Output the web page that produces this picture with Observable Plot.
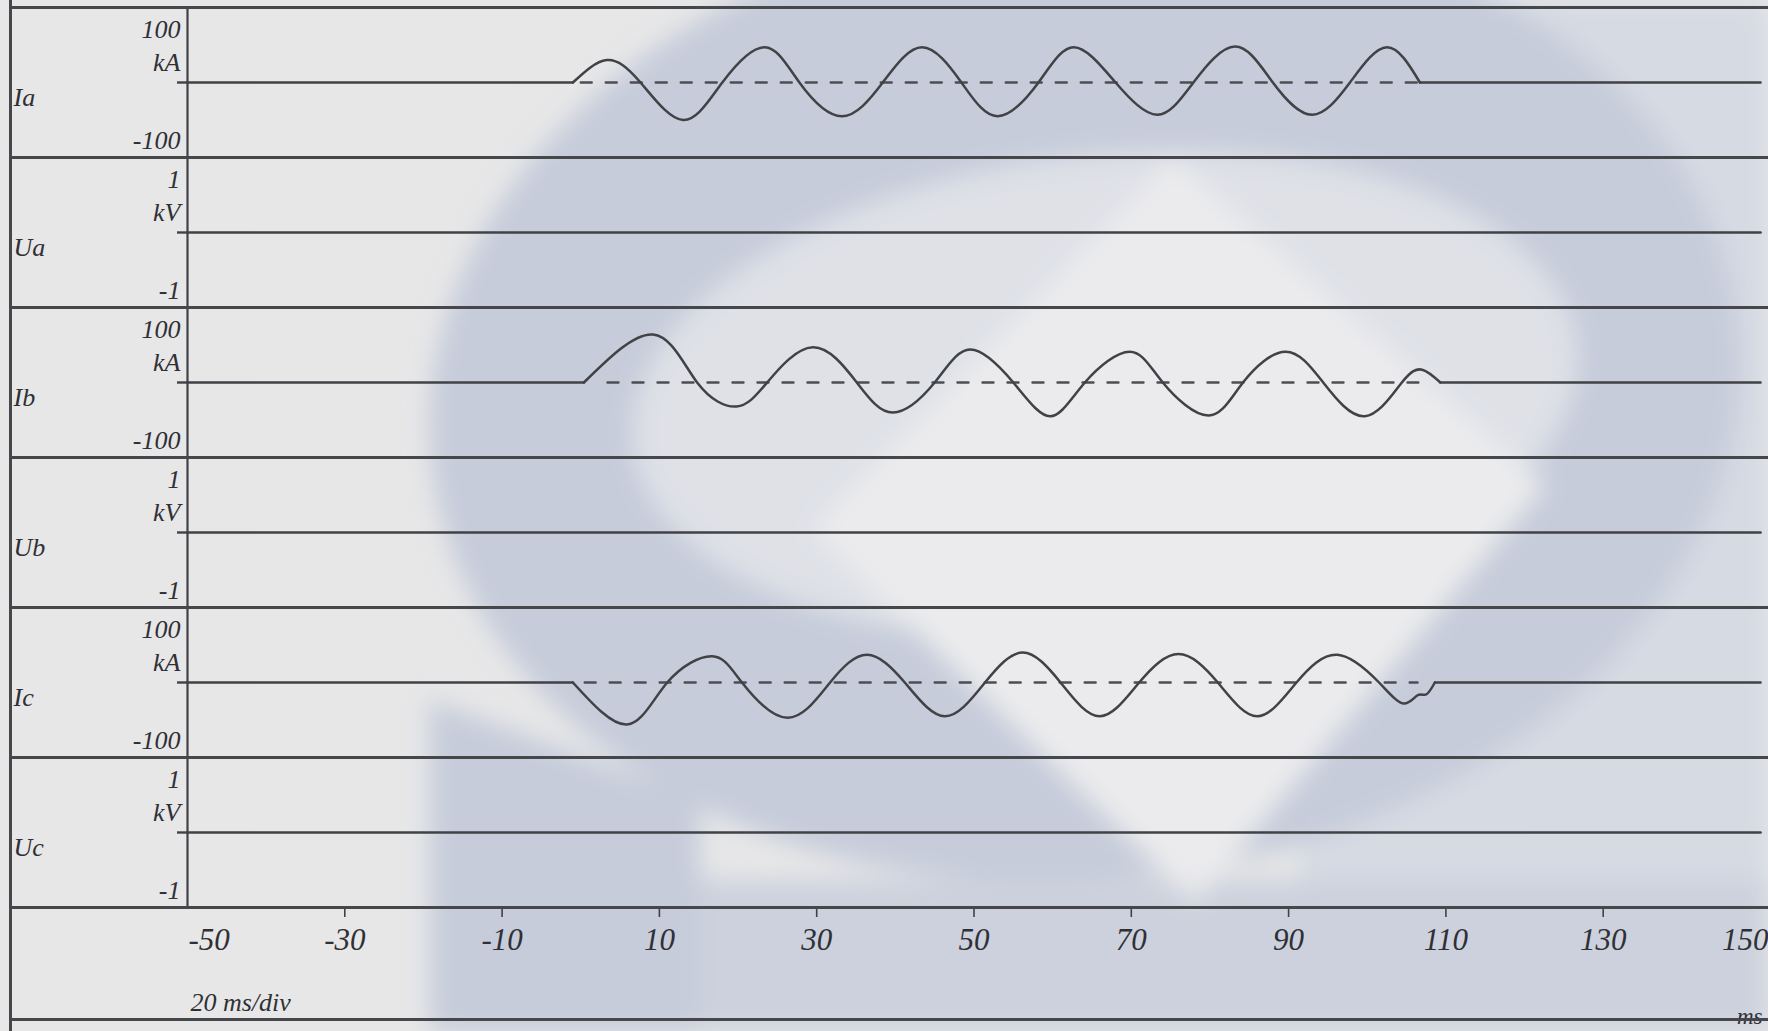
<!DOCTYPE html>
<html><head><meta charset="utf-8">
<script src="https://cdn.jsdelivr.net/npm/d3@7"></script>
<script src="https://cdn.jsdelivr.net/npm/@observablehq/plot@0.6"></script>
<style>
html,body{margin:0;padding:0;background:#e7e7e8;}
#root{position:relative;width:1768px;height:1031px;overflow:hidden;}
.sep{position:absolute;left:11px;right:0;height:0;border-top:3px solid #46474b;}
.vline{position:absolute;left:9px;top:0;bottom:0;border-left:3px solid #46474b;}
.panel{position:absolute;left:0;}
</style></head>
<body>
<div id="root">
<svg id="bg" width="1768" height="1031" style="position:absolute;left:0;top:0">
  <defs><filter id="blur" x="-20%" y="-20%" width="140%" height="140%"><feGaussianBlur stdDeviation="12"/></filter></defs>
  <rect width="1768" height="1031" fill="#e7e7e8"/>
  <g filter="url(#blur)">
    <rect x="1300" y="0" width="468" height="1031" fill="#d6dae3"/>
    <polygon points="560,880 1768,880 1768,1031 560,1031" fill="#ccd1dd"/>
    <ellipse cx="1085" cy="395" rx="657" ry="485" fill="#c6ccda" transform="rotate(-6 1085 395)"/>
    <ellipse cx="1105" cy="395" rx="474" ry="240" fill="#dfe1e7" transform="rotate(-6 1105 395)"/>
    <polygon points="1172,158 1545,485 1195,902 812,530" fill="#ebebed"/>
    <polygon points="430,700 700,800 700,1031 430,1031" fill="#c6ccda"/>
  </g>
</svg>
</div>
<script>
// ---------- data ----------
const xDomain = [-50, 150];
const xTicks = [-50, -30, -10, 10, 30, 50, 70, 90, 110, 130, 150];
const names = ["Ia", "Ua", "Ib", "Ub", "Ic", "Uc"];
const units = ["kA", "kV", "kA", "kV", "kA", "kV"];
const fullScale = [100, 1, 100, 1, 100, 1];

// phase currents (kA) read from the record
const Ia_t = [-1, 3.3, 7.6, 13, 18, 23.4, 27.8, 33.2, 38.4, 43.4, 48.4, 53, 58.2, 62.7, 68, 73.3, 77.9, 83.2, 88, 93, 97.8, 102.5, 106.7];
const Ia_v = [0, 30, 0, -50, 0, 47, 0, -45, 0, 47, 0, -45, 0, 47, 0, -43, 0, 48, 0, -43, 0, 47, 0];
const Ib_t = [0.4, 9.2, 14.8, 19.8, 23.7, 29.5, 35.1, 39.7, 45, 49.5, 55, 59.7, 64.1, 69.8, 74, 79.8, 84.2, 89.6, 94.4, 99.7, 104.4, 107, 109.3];
const Ib_v = [0, 64, 0, -32, 0, 47, 0, -40, 0, 44, 0, -45, 0, 41, 0, -44, 0, 41, 0, -45, 0, 17, 0];
const Ic_t = [-1, 5.9, 11, 16.7, 20.5, 26.3, 31.7, 36.4, 41.2, 46.3, 51.4, 56.2, 61, 66, 71, 76, 81, 86, 91, 96.2, 101.5, 104.6, 106.4, 107.5, 108.6];
const Ic_v = [0, -56, 0, 35, 0, -47, 0, 37, 0, -45, 0, 40, 0, -45, 0, 38, 0, -45, 0, 37, 0, -28, -17, -16, 0];
// flat parts before / after the current flow (kA = 0)
const Ia_before = [-50, -1],  Ia_after = [106.7, 150];
const Ib_before = [-50, 0.4], Ib_after = [109.3, 150];
const Ic_before = [-50, -1],  Ic_after = [108.6, 150];
// dashed zero reference during the current flow
const Ia_ref = [0, 106.5], Ib_ref = [3.4, 106.5], Ic_ref = [0.5, 106.4];
// phase voltages (kV)
const Ua_t = [-50, 150], Ua_v = [0, 0];
const Ub_t = [-50, 150], Ub_v = [0, 0];
const Uc_t = [-50, 150], Uc_v = [0, 0];

// ---------- layout / style ----------
const W = 1768, PH = 150, TOP = 7, ML = 187, MR = 8;
const ink = "#414246";
const font = {fontFamily: "'Liberation Serif', 'DejaVu Serif', serif", fontStyle: "italic", fontSize: "26px",
  background: "transparent", color: "#2f3035", overflow: "visible", maxWidth: "none"};

const pts = (ts, vs) => ts.map((t, k) => ({t, v: vs[k]}));
const flat = ts => ts.map(t => ({t, v: 0}));

const currents = {
  Ia: {wave: pts(Ia_t, Ia_v), before: flat(Ia_before), after: flat(Ia_after), ref: flat(Ia_ref)},
  Ib: {wave: pts(Ib_t, Ib_v), before: flat(Ib_before), after: flat(Ib_after), ref: flat(Ib_ref)},
  Ic: {wave: pts(Ic_t, Ic_v), before: flat(Ic_before), after: flat(Ic_after), ref: flat(Ic_ref)}
};
const voltages = {Ua: pts(Ua_t, Ua_v), Ub: pts(Ub_t, Ub_v), Uc: pts(Uc_t, Uc_v)};

const root = document.getElementById("root");

names.forEach((name, i) => {
  const m = fullScale[i];
  const fmt = d => String(d);
  const marks = [
    Plot.ruleX([xDomain[0]], {stroke: ink, strokeWidth: 2.2}),
    Plot.axisY({ticks: [0], tickSize: 10, tickFormat: () => "", label: null, stroke: ink, strokeWidth: 2.4}),
    Plot.text([m], {y: d => d, text: d => fmt(d), frameAnchor: "left", textAnchor: "end", dx: -7, dy: 22}),
    Plot.text([0], {y: d => d, text: () => units[i], frameAnchor: "left", textAnchor: "end", dx: -7, dy: -20}),
    Plot.text([-m], {y: d => d, text: d => fmt(d), frameAnchor: "left", textAnchor: "end", dx: -7, dy: -17}),
    Plot.text([0], {y: d => d, text: () => name, frameAnchor: "left", textAnchor: "start", dx: -174, dy: 15})
  ];
  if (currents[name]) {
    const c = currents[name];
    marks.push(
      Plot.line(c.ref, {x: "t", y: "v", stroke: "#4d4e53", strokeWidth: 2.4, strokeDasharray: "11,14"}),
      Plot.line(c.before, {x: "t", y: "v", stroke: ink, strokeWidth: 2.5}),
      Plot.line(c.after, {x: "t", y: "v", stroke: ink, strokeWidth: 2.5}),
      Plot.line(c.wave, {x: "t", y: "v", curve: "natural", stroke: ink, strokeWidth: 2.5})
    );
  } else {
    marks.push(Plot.line(voltages[name], {x: "t", y: "v", stroke: ink, strokeWidth: 2.7}));
  }
  const svg = Plot.plot({
    width: W, height: PH, marginLeft: ML, marginRight: MR, marginTop: 0, marginBottom: 0,
    x: {domain: xDomain, axis: null}, y: {domain: [-m, m], axis: null},
    style: font, marks
  });
  const div = document.createElement("div");
  div.className = "panel";
  div.style.top = (TOP + i * PH) + "px";
  div.appendChild(svg);
  root.appendChild(div);
});

// time axis
const first = xTicks[0], last = xTicks[xTicks.length - 1];
const inner = xTicks.filter(d => d !== first && d !== last);
const axisSvg = Plot.plot({
  width: W, height: 112, marginLeft: ML, marginRight: MR, marginTop: 0, marginBottom: 111,
  x: {domain: xDomain, axis: null},
  style: {...font, fontSize: "31px"},
  marks: [
    Plot.axisX({anchor: "bottom", ticks: inner, tickSize: 9, tickFormat: () => "", label: null, stroke: ink, strokeWidth: 1.6}),
    Plot.text(inner, {x: d => d, text: d => String(d), frameAnchor: "top", lineAnchor: "top", dy: 20}),
    Plot.text([first], {x: d => d, text: d => String(d), textAnchor: "start", dx: 1, frameAnchor: "top", lineAnchor: "top", dy: 20}),
    Plot.text([last], {x: d => d, text: d => String(d), textAnchor: "end", dx: 8, frameAnchor: "top", lineAnchor: "top", dy: 20}),
    Plot.text(["20 ms/div"], {x: () => xDomain[0], text: d => d, textAnchor: "start", dx: 3, frameAnchor: "top", dy: 85, fontSize: 26}),
    Plot.text(["ms"], {x: () => xDomain[1], text: d => d, textAnchor: "end", dx: 2, frameAnchor: "top", dy: 100, fontSize: 23})
  ]
});
const adiv = document.createElement("div");
adiv.className = "panel";
adiv.style.top = (TOP + 6 * PH) + "px";
adiv.appendChild(axisSvg);
root.appendChild(adiv);

// frame lines
const seps = [0, 1, 2, 3, 4, 5, 6].map(k => TOP + k * PH).concat([1019]);
seps.forEach(y => {
  const d = document.createElement("div");
  d.className = "sep";
  d.style.top = (y - 1) + "px";
  root.appendChild(d);
});
const v = document.createElement("div");
v.className = "vline";
root.appendChild(v);
</script>
</body></html>
